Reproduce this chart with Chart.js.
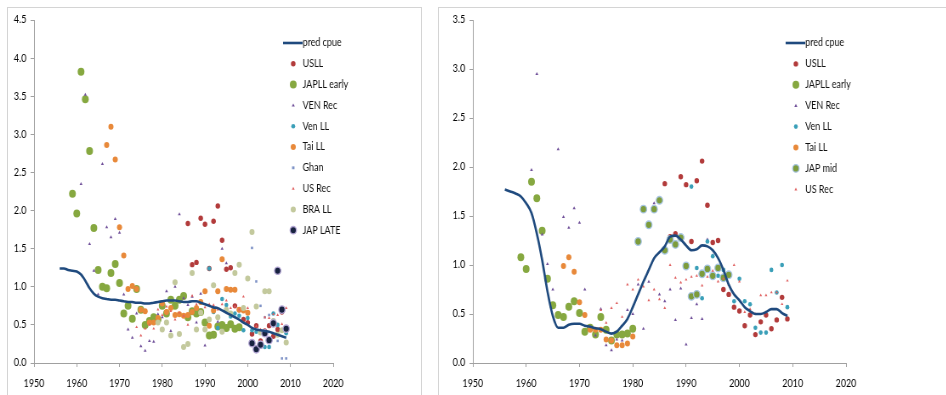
<!DOCTYPE html>
<html>
<head>
<meta charset="utf-8">
<script src="https://cdn.jsdelivr.net/npm/chart.js@4/dist/chart.umd.min.js"></script>
<style>
    body { margin: 0; width: 946px; height: 395px; overflow: hidden; background: #fff; position: relative; }
    .frame { position: absolute; border: 1px solid #d4d4d4; box-sizing: border-box; }
    /* the original picture is squeezed sideways, so the charts are drawn wide and squeezed too */
    .box { position: absolute; top: 0; height: 395px; transform: scaleX(0.85); transform-origin: 0 0; }
</style>
</head>
<body>
<div class="frame" style="left:7px; top:7px; width:415px; height:400px;"></div>
<div class="frame" style="left:438px; top:7px; width:520px; height:400px;"></div>
<div class="box" style="left:0; width:506px;"><canvas id="leftChart"></canvas></div>
<div class="box" style="left:438px; width:598px;"><canvas id="rightChart"></canvas></div>
<script>
// ---- Left panel data ----
const xTicks = [1950, 1960, 1970, 1980, 1990, 2000, 2010, 2020];

const predYears = [1956, 1957, 1958, 1959, 1960, 1961, 1962, 1963, 1964, 1965, 1966, 1967, 1968, 1969, 1970,
    1971, 1972, 1973, 1974, 1975, 1976, 1977, 1978, 1979, 1980, 1981, 1982, 1983, 1984, 1985, 1986, 1987,
    1988, 1989, 1990, 1991, 1992, 1993, 1994, 1995, 1996, 1997, 1998, 1999, 2000, 2001, 2002, 2003, 2004,
    2005, 2006, 2007, 2008, 2009];
const predLeft = [1.24, 1.24, 1.22, 1.21, 1.20, 1.16, 1.08, 0.98, 0.91, 0.87, 0.85, 0.84, 0.83, 0.83, 0.82,
    0.81, 0.80, 0.80, 0.79, 0.79, 0.78, 0.78, 0.79, 0.80, 0.81, 0.82, 0.82, 0.82, 0.81, 0.80, 0.80, 0.81,
    0.81, 0.79, 0.77, 0.75, 0.73, 0.72, 0.69, 0.66, 0.63, 0.60, 0.57, 0.53, 0.50, 0.46, 0.44, 0.43, 0.42,
    0.41, 0.39, 0.37, 0.35, 0.33];

const usllYears = [1986, 1987, 1988, 1989, 1990, 1991, 1992, 1993, 1994, 1995, 1996, 1997, 1998, 1999, 2000,
    2001, 2002, 2003, 2004, 2005, 2006, 2007, 2008, 2009];
const usllCpue = [1.83, 1.29, 1.32, 1.90, 1.82, 1.24, 1.86, 2.06, 1.61, 1.23, 1.25, 0.75, 0.70, 0.57, 0.53,
    0.38, 0.49, 0.29, 0.42, 0.49, 0.35, 0.44, 0.67, 0.45];

const japEarlyYearsL = [1959, 1960, 1961, 1962, 1963, 1964, 1965, 1966, 1967, 1968, 1969, 1970, 1971, 1972,
    1973, 1974, 1975, 1976, 1977, 1978, 1979, 1980, 1981, 1982, 1983, 1984, 1985, 1986, 1987, 1988, 1989,
    1990, 1991, 1992, 1993, 1994, 1995, 1996, 1997, 1998];
const japEarlyLeft = [2.22, 1.96, 3.82, 3.46, 2.78, 1.77, 1.22, 1.00, 0.98, 1.18, 1.30, 1.05, 0.65, 0.75,
    0.58, 0.97, 0.70, 0.50, 0.55, 0.60, 0.57, 0.75, 0.65, 0.83, 0.75, 0.83, 0.88, 0.60, 0.68, 0.65, 0.67,
    0.53, 0.36, 0.37, 0.48, 0.50, 0.46, 0.51, 0.45, 0.47];

const venRecYears = [1961, 1962, 1963, 1964, 1965, 1966, 1967, 1968, 1969, 1970, 1971, 1972, 1973, 1974,
    1975, 1976, 1977, 1978, 1979, 1980, 1981, 1982, 1983, 1984, 1985, 1986, 1987, 1988, 1989, 1990, 1991,
    1992, 1993, 1994, 1995];
const venRecLeft = [2.35, 3.52, 1.56, 1.21, 0.90, 2.61, 1.78, 1.65, 1.89, 1.71, 0.90, 0.44, 0.33, 0.65,
    0.22, 0.16, 0.29, 0.28, 0.64, 0.60, 0.94, 0.42, 1.00, 1.95, 0.85, 0.76, 0.87, 0.53, 0.91, 0.23, 0.55,
    0.71, 0.54, 1.50, 1.31];

const venLLYears = [1991, 1992, 1993, 1994, 1995, 1996, 1997, 1998, 1999, 2000, 2001, 2002, 2003, 2004,
    2005, 2006, 2007, 2008, 2009];
const venLLLeft = [1.24, 0.67, 0.46, 0.84, 0.76, 0.61, 0.65, 0.62, 0.43, 0.59, 0.43, 0.41, 0.25, 0.21,
    0.21, 0.65, 0.50, 0.69, 0.39];

const taiYearsL = [1967, 1968, 1969, 1970, 1971, 1972, 1973, 1974, 1975, 1976, 1977, 1978, 1979, 1980,
    1981, 1982, 1983, 1984, 1985, 1986, 1987, 1988, 1989, 1990, 1991, 1992, 1993, 1994, 1995, 1996, 1997,
    1998, 1999, 2000];
const taiLeft = [2.86, 3.10, 2.67, 1.78, 1.41, 0.97, 1.01, 0.97, 0.70, 0.68, 0.53, 0.53, 0.59, 0.78,
    0.67, 0.72, 0.63, 0.64, 0.62, 0.63, 0.67, 0.72, 0.80, 0.94, 0.49, 0.69, 0.94, 1.36, 0.97, 0.96, 0.96,
    0.70, 0.69, 0.66];

const ghanYears = [2001, 2002, 2003, 2004, 2005, 2006, 2007, 2008, 2009];
const ghanCpue = [1.51, 1.07, 0.75, 0.60, 0.63, 0.57, 0.29, 0.06, 0.06];

const usRecYears = [1974, 1975, 1976, 1977, 1978, 1979, 1980, 1981, 1982, 1983, 1984, 1985, 1986, 1987,
    1988, 1989, 1990, 1991, 1992, 1993, 1994, 1995, 1996, 1997, 1998, 1999, 2000, 2001, 2002, 2003, 2004,
    2005, 2006, 2007, 2008, 2009];
const usRecLeft = [0.47, 0.36, 0.45, 0.50, 0.45, 0.70, 0.63, 0.74, 0.68, 0.57, 0.66, 0.62, 0.50, 0.88,
    0.77, 0.68, 0.73, 0.77, 0.76, 0.70, 0.77, 0.82, 0.72, 0.74, 0.70, 0.87, 0.72, 0.46, 0.48, 0.44, 0.60,
    0.59, 0.64, 0.63, 0.51, 0.72];

const braYears = [1979, 1980, 1981, 1982, 1983, 1984, 1985, 1986, 1987, 1988, 1989, 1990, 1991, 1992,
    1993, 1994, 1995, 1996, 1997, 1998, 1999, 2000, 2001, 2002, 2003, 2004, 2005, 2006, 2007, 2008, 2009];
const braCpue = [0.53, 0.44, 0.53, 0.36, 1.06, 0.38, 0.21, 0.25, 1.18, 0.44, 0.66, 0.44, 0.57, 1.02,
    0.60, 0.41, 0.70, 0.65, 1.18, 1.29, 0.72, 1.11, 1.72, 0.74, 0.40, 0.94, 0.94, 0.55, 0.37, 0.43, 0.27];

const japLateYears = [2001, 2002, 2003, 2004, 2005, 2006, 2007, 2008, 2009];
const japLateCpue = [0.26, 0.18, 0.24, 0.39, 0.30, 0.52, 1.21, 0.70, 0.45];

// ---- Right panel data ----
const predRight = [1.77, 1.75, 1.73, 1.70, 1.63, 1.53, 1.32, 1.05, 0.73, 0.48, 0.36, 0.36, 0.39, 0.40, 0.40,
    0.38, 0.37, 0.355, 0.345, 0.32, 0.30, 0.32, 0.38, 0.45, 0.57, 0.70, 0.83, 0.95, 1.07, 1.13, 1.19, 1.29,
    1.30, 1.26, 1.20, 1.15, 1.16, 1.20, 1.19, 1.15, 1.07, 0.95, 0.80, 0.70, 0.64, 0.57, 0.53, 0.50, 0.50,
    0.52, 0.55, 0.55, 0.51, 0.48];

const japEarlyYearsR = [1959, 1960, 1961, 1962, 1963, 1964, 1965, 1966, 1967, 1968, 1969, 1970, 1971, 1972,
    1973, 1974, 1975, 1976, 1977, 1978, 1979, 1980];
const japEarlyRight = [1.08, 0.96, 1.85, 1.68, 1.35, 0.86, 0.59, 0.49, 0.47, 0.575, 0.63, 0.51, 0.32, 0.36,
    0.29, 0.47, 0.34, 0.23, 0.29, 0.29, 0.30, 0.35];

const venRecRight = [1.97, 2.95, 1.31, 1.01, 0.75, 2.18, 1.49, 1.38, 1.58, 1.43, 0.75, 0.37, 0.28, 0.55,
    0.18, 0.13, 0.24, 0.23, 0.54, 0.50, 0.80, 0.35, 0.83, 1.63, 0.70, 0.63, 0.75, 0.44, 0.76, 0.19, 0.46,
    0.60, 0.45, 1.26, 1.10];

const venLLRight = [1.80, 0.97, 0.66, 1.24, 1.09, 0.89, 0.95, 0.90, 0.63, 0.86, 0.63, 0.60, 0.36, 0.31,
    0.31, 0.95, 0.72, 1.00, 0.57];

const taiYearsR = [1967, 1968, 1969, 1970, 1971, 1972, 1973, 1974, 1975, 1976, 1977, 1978, 1979, 1980];
const taiRight = [0.99, 1.08, 0.93, 0.62, 0.49, 0.34, 0.34, 0.34, 0.24, 0.23, 0.18, 0.18, 0.20, 0.27];

const japMidYears = [1981, 1982, 1983, 1984, 1985, 1986, 1987, 1988, 1989, 1990, 1991, 1992, 1993, 1994,
    1995, 1996, 1997, 1998];
const japMidCpue = [1.24, 1.57, 1.41, 1.57, 1.66, 1.15, 1.26, 1.21, 1.28, 0.99, 0.68, 0.70, 0.91, 0.96,
    0.89, 0.97, 0.87, 0.90];

const usRecRight = [0.54, 0.41, 0.56, 0.61, 0.47, 0.80, 0.75, 0.85, 0.78, 0.64, 0.75, 0.65, 0.56, 1.00,
    0.87, 0.82, 0.85, 0.88, 0.89, 0.79, 0.88, 0.94, 0.83, 0.86, 0.80, 1.00, 0.83, 0.52, 0.55, 0.50, 0.69,
    0.69, 0.72, 0.72, 0.60, 0.84];

const FONT = "Lato, 'Liberation Sans', sans-serif";

// Pair years with values
function pts(years, values) {
    return years.map((y, i) => ({ x: y, y: values[i] }));
}

// Scatter series with a given marker
function series(label, years, values, style) {
    return {
        label: label,
        type: 'scatter',
        data: pts(years, values),
        pointStyle: style.shape || 'circle',
        pointRadius: style.r,
        pointHoverRadius: style.r,
        backgroundColor: style.fill,
        borderColor: style.stroke || style.fill,
        pointBorderWidth: style.bw || 0,
        borderWidth: style.bw || 0
    };
}

function predLine(values) {
    return {
        label: 'pred cpue',
        type: 'line',
        data: pts(predYears, values),
        borderColor: '#1f4a7e',
        borderWidth: 2.6,
        pointRadius: 0,
        fill: false,
        cubicInterpolationMode: 'monotone'
    };
}

const st = {
    usll: { r: 2.7, fill: '#b23b3b' },
    japEarly: { r: 4, fill: '#86a840' },
    venRec: { r: 2, fill: '#6f4f99', shape: 'triangle' },
    venLL: { r: 2.3, fill: '#3a9fb8' },
    tai: { r: 3, fill: '#e8893a' },
    ghan: { r: 1.8, fill: '#7e92c6', shape: 'rect' },
    usRec: { r: 1.8, fill: '#e06060', shape: 'triangle' },
    bra: { r: 3, fill: '#c3c99d' },
    japLate: { r: 3.7, fill: '#17223f', stroke: '#b3a6d4', bw: 1.3 },
    japMid: { r: 3.8, fill: '#7d9c3c', stroke: '#a7c5e4', bw: 1.3 }
};

// Legend drawn inside the plot, like the spreadsheet original
const insideLegend = {
    id: 'insideLegend',
    afterDraw(chart, args, opts) {
        const ctx = chart.ctx;
        ctx.save();
        ctx.font = '10.5px ' + FONT;
        ctx.textBaseline = 'middle';
        chart.data.datasets.forEach((ds, i) => {
            const y = opts.y + i * opts.step;
            const mx = opts.x;
            if (ds.type === 'line') {
                ctx.strokeStyle = ds.borderColor;
                ctx.lineWidth = ds.borderWidth;
                ctx.beginPath();
                ctx.moveTo(mx - 12, y);
                ctx.lineTo(mx + 11, y);
                ctx.stroke();
            } else {
                ctx.fillStyle = ds.backgroundColor;
                ctx.strokeStyle = ds.borderColor;
                ctx.lineWidth = ds.borderWidth;
                const r = ds.pointRadius;
                ctx.beginPath();
                if (ds.pointStyle === 'triangle') {
                    ctx.moveTo(mx, y - r);
                    ctx.lineTo(mx + r * 0.9, y + r * 0.6);
                    ctx.lineTo(mx - r * 0.9, y + r * 0.6);
                    ctx.closePath();
                } else if (ds.pointStyle === 'rect') {
                    ctx.rect(mx - r * 0.8, y - r * 0.8, r * 1.6, r * 1.6);
                } else {
                    ctx.arc(mx, y, r, 0, Math.PI * 2);
                }
                ctx.fill();
                if (ds.borderWidth) ctx.stroke();
            }
            ctx.fillStyle = '#111';
            ctx.fillText(ds.label, mx + 11, y);
        });
        ctx.restore();
    }
};

function buildChart(id, datasets, yMax, pad, legend) {
    const ctx = document.getElementById(id).getContext('2d');
    // later series sit on top, the line above all
    datasets.forEach((ds, i) => { ds.order = ds.type === 'line' ? 0 : datasets.length - i; });
    return new Chart(ctx, {
        type: 'scatter',
        data: { datasets: datasets },
        plugins: [insideLegend],
        options: {
            responsive: true,
            maintainAspectRatio: false,
            animation: false,
            layout: { padding: { left: 0, right: pad.right, top: 20, bottom: 0 } },
            plugins: {
                legend: { display: false },
                tooltip: { enabled: false },
                insideLegend: legend
            },
            scales: {
                x: {
                    type: 'linear',
                    min: 1950,
                    max: 2020,
                    afterBuildTicks: axis => { axis.ticks = xTicks.map(v => ({ value: v })); },
                    afterFit: axis => { axis.height = 32; },
                    border: { color: '#a0a0a0', width: 1 },
                    grid: { drawOnChartArea: false, drawTicks: true, tickLength: 4, color: '#a0a0a0' },
                    ticks: { color: '#000', font: { family: FONT, size: 10.5 }, padding: 10, maxRotation: 0,
                        callback: v => String(v) }
                },
                y: {
                    min: 0,
                    max: yMax,
                    afterFit: axis => { axis.width = pad.left; },
                    border: { color: '#a0a0a0', width: 1 },
                    grid: { drawOnChartArea: false, drawTicks: true, tickLength: 4, color: '#a0a0a0' },
                    ticks: { stepSize: 0.5, color: '#000', font: { family: FONT, size: 10.5 }, padding: 5,
                        callback: v => v.toFixed(1) }
                }
            }
        }
    });
}

buildChart('leftChart', [
    predLine(predLeft),
    series('USLL', usllYears, usllCpue, st.usll),
    series('JAPLL early', japEarlyYearsL, japEarlyLeft, st.japEarly),
    series('VEN Rec', venRecYears, venRecLeft, st.venRec),
    series('Ven LL', venLLYears, venLLLeft, st.venLL),
    series('Tai LL', taiYearsL, taiLeft, st.tai),
    series('Ghan', ghanYears, ghanCpue, st.ghan),
    series('US Rec', usRecYears, usRecLeft, st.usRec),
    series('BRA LL', braYears, braCpue, st.bra),
    series('JAP LATE', japLateYears, japLateCpue, st.japLate)
], 4.5, { left: 40, right: 114 }, { x: 345, y: 43, step: 20.8 });

buildChart('rightChart', [
    predLine(predRight),
    series('USLL', usllYears, usllCpue, st.usll),
    series('JAPLL early', japEarlyYearsR, japEarlyRight, st.japEarly),
    series('VEN Rec', venRecYears, venRecRight, st.venRec),
    series('Ven LL', venLLYears, venLLRight, st.venLL),
    series('Tai LL', taiYearsR, taiRight, st.tai),
    series('JAP mid', japMidYears, japMidCpue, st.japMid),
    series('US Rec', usRecYears, usRecRight, st.usRec)
], 3.5, { left: 41, right: 118 }, { x: 421, y: 43, step: 20.9 });
</script>
</body>
</html>
